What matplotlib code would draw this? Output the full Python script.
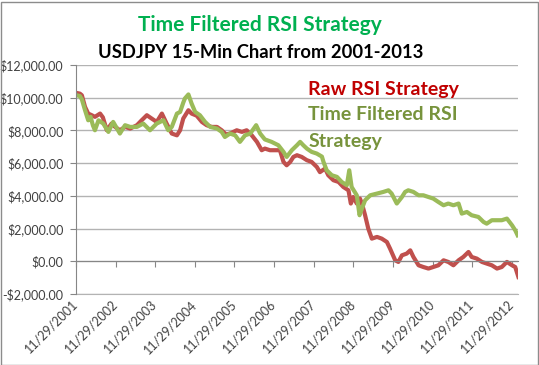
import matplotlib
matplotlib.use("Agg")
import matplotlib.pyplot as plt
from matplotlib.patches import Rectangle
from matplotlib.lines import Line2D

plt.rcParams['font.family'] = ['Lato', 'DejaVu Sans']

# ---- data (decimal years, equity in $) ----
raw_years = [2001.93, 2002.01, 2002.06, 2002.14, 2002.22, 2002.31, 2002.39, 2002.52, 2002.59, 2002.69,
             2002.81, 2002.90, 2003.02, 2003.15, 2003.28, 2003.45, 2003.57, 2003.70, 2003.82, 2003.95,
             2004.08, 2004.20, 2004.33, 2004.46, 2004.54, 2004.62, 2004.69, 2004.75, 2004.83, 2004.96,
             2005.09, 2005.21, 2005.34, 2005.47, 2005.59, 2005.70, 2005.80, 2005.97, 2006.10, 2006.22,
             2006.35, 2006.48, 2006.60, 2006.68, 2006.81, 2006.94, 2007.06, 2007.15, 2007.23, 2007.32,
             2007.40, 2007.49, 2007.61, 2007.74, 2007.86, 2007.99, 2008.07, 2008.20, 2008.28, 2008.41,
             2008.54, 2008.66, 2008.79, 2008.85, 2008.91, 2009.00, 2009.08, 2009.13, 2009.21, 2009.29,
             2009.38, 2009.51, 2009.63, 2009.76, 2009.84, 2009.97, 2010.05, 2010.14, 2010.26, 2010.35,
             2010.43, 2010.56, 2010.68, 2010.81, 2010.93, 2011.06, 2011.19, 2011.31, 2011.44, 2011.57,
             2011.69, 2011.82, 2011.90, 2012.03, 2012.16, 2012.28, 2012.41, 2012.54, 2012.66, 2012.79,
             2012.92, 2013.00, 2013.08]
raw_equity = [10290, 10250, 10150, 9440, 9030, 8930, 8830, 9030, 8800, 8010,
              8420, 8215, 8010, 8215, 8115, 8320, 8620, 8930, 8730, 8520,
              9030, 8420, 7810, 7700, 8010, 8730, 9000, 9235, 9030, 8900,
              8520, 8320, 8215, 8215, 8010, 7750, 7810, 8010, 7910, 8010,
              7700, 7300, 6790, 6890, 6790, 6790, 6790, 6075, 5870, 6075,
              6380, 6485, 6380, 6180, 6075, 5770, 5450, 5670, 5260, 4955,
              4850, 4545, 4340, 3530, 3930, 3530, 3835, 3530, 2815, 2000,
              1385, 1490, 1385, 1180, 775, 60, -40, 365, 470, 670,
              265, -245, -350, -445, -350, -245, 60, -40, -245, 60,
              265, 570, 265, 165, -40, -140, -245, -445, -350, -40,
              -245, -350, -960]

filt_years = [2001.93, 2002.01, 2002.06, 2002.14, 2002.22, 2002.28, 2002.34, 2002.39, 2002.48, 2002.60,
              2002.73, 2002.85, 2003.02, 2003.15, 2003.28, 2003.45, 2003.61, 2003.78, 2003.95, 2004.12,
              2004.24, 2004.33, 2004.46, 2004.54, 2004.62, 2004.66, 2004.75, 2004.83, 2004.92, 2005.04,
              2005.17, 2005.30, 2005.47, 2005.59, 2005.67, 2005.80, 2005.93, 2006.05, 2006.18, 2006.31,
              2006.46, 2006.56, 2006.68, 2006.85, 2007.02, 2007.15, 2007.23, 2007.36, 2007.49, 2007.57,
              2007.65, 2007.74, 2007.86, 2007.99, 2008.12, 2008.16, 2008.24, 2008.37, 2008.50, 2008.62,
              2008.75, 2008.81, 2008.87, 2009.00, 2009.07, 2009.13, 2009.21, 2009.34, 2009.51, 2009.67,
              2009.80, 2009.88, 2010.01, 2010.14, 2010.22, 2010.30, 2010.43, 2010.56, 2010.68, 2010.81,
              2010.93, 2011.06, 2011.19, 2011.31, 2011.44, 2011.57, 2011.65, 2011.78, 2011.90, 2012.07,
              2012.20, 2012.28, 2012.41, 2012.54, 2012.66, 2012.79, 2012.92, 2013.00, 2013.06]
filt_equity = [10150, 10100, 9900, 9235, 8620, 8830, 8300, 8010, 8620, 8420,
               7910, 8520, 7810, 8320, 8215, 8215, 8420, 8010, 8420, 8620,
               8010, 8215, 9030, 9130, 9700, 9950, 10200, 9645, 9130, 8930,
               8520, 8215, 8115, 7910, 7600, 7810, 7700, 7300, 7700, 7810,
               8320, 7810, 7450, 7300, 7095, 6690, 6380, 6790, 7095, 7300,
               7095, 6890, 6690, 6585, 6400, 6075, 5565, 5260, 5160, 4850,
               4650, 5565, 4545, 4035, 2815, 3225, 3730, 4035, 4140, 4240,
               4340, 4140, 3530, 3930, 4240, 4340, 4240, 4035, 4035, 3930,
               3835, 3625, 3425, 3530, 3425, 3530, 2915, 3015, 2815, 2710,
               2405, 2300, 2510, 2510, 2510, 2610, 2200, 1895, 1590]

series_names = ["Raw RSI Strategy", "Time Filtered RSI\nStrategy"]
tick_years = [2001.912 + i for i in range(12)]
tick_labels = ["11/29/%d" % (2001 + i) for i in range(12)]
y_ticks = list(range(-2000, 12001, 2000))
y_labels = ["-$2,000.00", "$0.00", "$2,000.00", "$4,000.00", "$6,000.00",
            "$8,000.00", "$10,000.00", "$12,000.00"]

red = "#C0504D"
green = "#9BBB59"
grid_c = "#B3B3B3"
axis_c = "#868686"
text_c = "#404040"

W, H = 539, 365
fig = plt.figure(figsize=(W / 100, H / 100), dpi=100)
fig.patch.set_facecolor("white")
ax = fig.add_axes([76 / W, 1 - 294 / H, (518 - 76) / W, (294 - 65) / H])

ax.plot(raw_years, raw_equity, color=red, lw=3, solid_joinstyle="round")
ax.plot(filt_years, filt_equity, color=green, lw=3, solid_joinstyle="round")

ax.set_xlim(2001.912, 2013.07)
ax.set_ylim(-2000, 12000)
ax.set_yticks(y_ticks)
ax.set_yticklabels(y_labels)
ax.yaxis.grid(True, color=grid_c, lw=1)
ax.set_axisbelow(True)
ax.tick_params(axis="y", direction="out", length=4, color=axis_c, labelsize=9,
               labelcolor=text_c, pad=5)
for s in ["top", "right"]:
    ax.spines[s].set_visible(False)
ax.spines["left"].set_color(axis_c)
ax.spines["bottom"].set_position(("data", 0))
ax.spines["bottom"].set_color(axis_c)
ax.set_xticks(tick_years)
ax.tick_params(axis="x", direction="out", length=4, color=axis_c, labelbottom=False)

sec = ax.secondary_xaxis(0.0)
sec.set_xticks(tick_years)
sec.set_xticklabels(tick_labels, rotation=45, ha="right", va="center",
                    rotation_mode="anchor")
sec.tick_params(length=0, labelsize=9, labelcolor=text_c, pad=6)
sec.spines["bottom"].set_color(grid_c)

fig.text(260 / W, 1 - 25 / H, "Time Filtered RSI Strategy", color="#00B050",
         fontsize=15, fontweight="bold", ha="center", va="center")
fig.text(261 / W, 1 - 52 / H, "USDJPY 15-Min Chart from 2001-2013", color="black",
         fontsize=13.2, fontweight="bold", ha="center", va="center")

handles = [Line2D([], [], color=red, lw=0), Line2D([], [], color=green, lw=0)]
leg = fig.legend(handles, series_names, loc="upper left",
                 bbox_to_anchor=(291 / W, 1 - 64 / H), frameon=False,
                 handlelength=0, handletextpad=0, labelspacing=0.4,
                 labelcolor=["#C00000", "#77933C"],
                 prop={"size": 14, "weight": "bold"})
for t in leg.get_texts():
    t.set_linespacing(1.72)

fig.add_artist(Rectangle((0.5 / W, 0.5 / H), (W - 2) / W, (H - 2) / H,
                         transform=fig.transFigure, fill=False,
                         edgecolor="#8C8C8C", lw=1))

fig.savefig("out.png", dpi=100)
